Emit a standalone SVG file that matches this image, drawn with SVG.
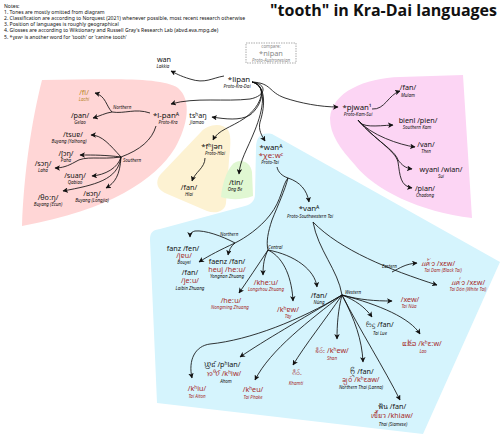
<svg xmlns="http://www.w3.org/2000/svg" width="500" height="435" viewBox="0 0 500 435">
<defs>
<style>
text{font-family:"Noto Sans","DejaVu Sans",sans-serif;fill:#111;text-anchor:middle}
.t{font-size:7.2px}
.p{font-size:7.8px}
.r{fill:#a52a2a}
.g{fill:#b8862a}
.l{font-size:4.5px;font-style:italic}
.b{font-size:4.5px;font-style:italic;text-anchor:start}
.note{font-size:5.1px;text-anchor:start}
.c path{fill:none;stroke:#111;stroke-width:0.85}
.c path.a{marker-end:url(#ah)}
.gr{fill:#888}
</style>
<marker id="ah" viewBox="0 0 10 10" refX="9" refY="5" markerWidth="5.5" markerHeight="5.5" markerUnits="userSpaceOnUse" orient="auto"><path d="M0,0 L10,5 L0,10 L2.5,5 z" fill="#111"/></marker>
</defs>
<rect width="500" height="435" fill="#fff"/>

<g id="regions">
<path d="M42,80 C100,80 160,76 178,88 C192,100 188,125 175,148 C155,180 110,210 22,226 C24,170 32,120 42,80 Z" fill="#ffd6d6"/>
<path d="M200,133 C207,124 222,122 228,130 C232,136 230,150 229,160 L226,203 C225,212 215,214 207,211 L165,193 C157,189 155,182 160,175 Z" fill="#fdf2d2"/>
<path d="M221,197 C222,185 226,172 232,165 C238,158 250,160 252,172 L253,196 C242,200 230,200 221,197 Z" fill="#e0f7d2"/>
<path d="M150,240 C150,232 153,230 160,229 L245,206 C252,204 255,200 255,194 L256,148 C256,136 262,132 272,134 L500,262 L423,434 L157,403 Z" fill="#d5f4fd"/>
<path d="M330,118 C332,92 365,78 400,77 L463,75 L472,218 C420,212 375,190 355,165 C340,148 330,135 330,118 Z" fill="#fcd5f4"/>
</g>

<g id="notes">
<text class="note" x="4" y="7.5">Notes:</text>
<text class="note" x="4" y="13.7">1. Tones are mostly omitted from diagram</text>
<text class="note" x="4" y="19.9">2. Classification are according to Norquest (2021) whenever possible, most recent research otherwise</text>
<text class="note" x="4" y="26.1">3. Position of languages is roughly geographical</text>
<text class="note" x="4" y="32.3">4. Glosses are according to Wiktionary and Russell Gray's Research Lab (abvd.eva.mpg.de)</text>
<text class="note" x="4" y="38.5">5. *ɣɛwᶜ is another word for 'tooth' or 'canine tooth'</text>
</g>
<text id="title" x="497" y="16" style="font-family:'Open Sans','Noto Sans',sans-serif;font-weight:bold;font-size:16px;text-anchor:end">"tooth" in Kra-Dai languages</text>

<g id="connectors" class="c">
<path class="a" d="M224,76 C212,78 205,84 190,79 C180,76 175,73 171,71"/>
<path class="a" d="M252,82 C272,83 268,92 285,98 C300,103 320,107 338,107"/>
<path class="a" d="M252,82 C268,84 266,96 250,99 C225,102 195,97 171,104"/>
<path class="a" d="M252,82 C268,85 262,106 250,115 C240,121 225,119 212,117"/>
<path class="a" d="M252,82 C268,86 262,105 245,118 C230,128 218,130 213,140"/>
<path class="a" d="M252,82 C268,86 263,110 255,130 C247,150 240,160 239,174"/>
<path class="a" d="M252,82 C268,86 264,110 260,122 C258,130 262,136 265,141"/>
<path d="M150,113 C135,108 125,114 112,112"/>
<path class="a" d="M112,112 C106,106 106,96 95,93"/>
<path class="a" d="M112,112 C105,113 100,116 93,118"/>
<path d="M156,126 C152,140 140,150 121,157"/>
<path class="a" d="M121,157 C110,145 102,135 91,135"/>
<path class="a" d="M121,157 C105,155 95,155 80,155"/>
<path class="a" d="M121,157 C100,160 85,155 75,162 C68,166 62,168 55,168"/>
<path class="a" d="M121,157 C118,168 105,175 92,176"/>
<path class="a" d="M121,157 C118,180 95,185 63,191"/>
<path class="a" d="M121,157 C120,175 115,183 106,188"/>
<path class="a" d="M205,158 C205,168 195,172 192,181"/>
<path d="M277,167 C278,172 282,176 288,178"/>
<path class="a" d="M288,178 C300,182 307,190 309,202"/>
<path d="M288,178 C282,185 282,200 270,215 C260,228 245,238 235,243"/>
<path class="a" d="M235,243 C220,250 210,255 199,262"/>
<path class="a" d="M235,243 C222,236 205,230 195,231 C191,232 190,234 190,237"/>
<path class="a" d="M235,243 C231,246 229,250 228,255"/>
<path d="M288,178 C285,190 278,205 272,220 C268,232 266,242 268,250"/>
<path class="a" d="M268,250 C258,265 248,280 239,293"/>
<path class="a" d="M268,250 C264,258 263,265 263,275"/>
<path class="a" d="M268,250 C285,258 292,280 293,301"/>
<path class="a" d="M268,250 C295,255 315,270 317,287"/>
<path d="M313,222 C318,250 338,270 342,295"/>
<path class="a" d="M313,222 C340,250 390,270 437,285"/>
<path class="a" d="M392,272 C400,268 405,264 417,263"/>
<path class="a" d="M342,295 C360,300 375,301 392,301"/>
<path class="a" d="M342,295 C355,300 365,307 372,317"/>
<path class="a" d="M342,295 C380,305 410,318 420,334"/>
<path class="a" d="M342,295 C360,330 385,370 400,400"/>
<path class="a" d="M342,295 C355,320 362,340 363,362"/>
<path class="a" d="M342,295 C338,310 337,325 337,339"/>
<path class="a" d="M342,295 C325,320 305,345 293,365"/>
<path class="a" d="M342,295 C310,320 270,350 255,380"/>
<path class="a" d="M342,295 C300,320 265,340 240,357"/>
<path class="a" d="M342,295 C300,320 250,340 210,344 C195,346 188,360 192,378"/>
<path class="a" d="M372,109 C385,110 388,95 400,91"/>
<path class="a" d="M358,120 C362,128 375,126 393,125"/>
<path class="a" d="M358,120 C370,135 400,145 415,147"/>
<path class="a" d="M358,120 C375,140 395,150 398,160 C402,165 405,168 412,169"/>
<path class="a" d="M358,120 C375,140 395,150 398,162 C400,175 400,186 412,188"/>
</g>

<g id="branch-labels">
<text class="b" x="113" y="109">Northern</text>
<text class="b" x="123" y="162">Southern</text>
<text class="b" x="220" y="236">Northern</text>
<text class="b" x="268" y="249">Central</text>
<text class="b" x="382" y="268">Eastern</text>
<text class="b" x="345" y="294">Western</text>
</g>

<g id="compare">
<rect x="246" y="43" width="50" height="20" fill="none" stroke="#888" stroke-width="0.7" stroke-dasharray="1.5,1"/>
<text class="gr" x="271" y="47.5" style="font-size:4.4px">compare:</text>
<text class="gr" x="271" y="55.8" style="font-size:7.4px">*nipan</text>
<text class="gr l" x="271" y="61.5">Proto-Austronesian</text>
</g>

<g id="n-lipan"><text class="p" x="239" y="82">*lipan</text><text class="l" x="237" y="88">Proto-Kra-Dai</text></g>
<g id="n-wan"><text class="t" x="164" y="61.5">wan</text><text class="l" x="163" y="67.5">Lakkia</text></g>
<g id="n-lachi"><text class="t g" x="84" y="95">/fi/</text><text class="l g" x="84" y="101">Lachi</text></g>
<g id="n-gelao"><text class="t" x="80" y="118">/pan/</text><text class="l" x="80" y="124">Gelao</text></g>
<g id="n-lpan"><text class="p" x="166" y="118">*l-panᴬ</text><text class="l" x="168" y="124">Proto-Kra</text></g>
<g id="n-yalhong"><text class="t" x="73" y="137">/tsuɐ/</text><text class="l" x="69" y="143">Buyang (Yalhong)</text></g>
<g id="n-paha"><text class="t" x="66" y="156">/ʃɔŋ/</text><text class="l" x="66" y="162">Paha</text></g>
<g id="n-laha"><text class="t" x="43" y="166">/sɔŋ/</text><text class="l" x="43" y="172">Laha</text></g>
<g id="n-qabiao"><text class="t" x="75" y="178">/suaŋ/</text><text class="l" x="75" y="184">Qabiao</text></g>
<g id="n-ecun"><text class="t" x="48" y="200">/θoːŋ/</text><text class="l" x="48" y="206">Buyang (Ecun)</text></g>
<g id="n-langjia"><text class="t" x="92" y="196">/ʁɔŋ/</text><text class="l" x="92" y="202">Buyang (Longjia)</text></g>
<g id="n-jiamao"><text class="t" x="198" y="118">tsʰaŋ</text><text class="l" x="197" y="124">Jiamao</text></g>
<g id="n-protohlai"><text class="p" x="212" y="149">*fʰjən</text><text class="l" x="215" y="155">Proto-Hlai</text></g>
<g id="n-hlai"><text class="t" x="189" y="190">/fan/</text><text class="l" x="189" y="196">Hlai</text></g>
<g id="n-ongbe"><text class="t" x="236" y="185">/tin/</text><text class="l" x="235" y="191">Ong Be</text></g>
<g id="n-prototai"><text class="p" x="271" y="149.5">*wanᴬ</text><text class="p r" x="271" y="157.8">*χeːwᶜ</text><text class="l" x="270" y="163.8">Proto-Tai</text></g>
<g id="n-protoswt"><text class="p" x="309" y="211">*vanᴬ</text><text class="l" x="310" y="218">Proto-Southwestern Tai</text></g>
<g id="n-bouyei"><text class="t" x="183" y="250.5">fanz /fen/</text><text class="t r" x="184" y="258.2">/jɐu/</text><text class="l" x="184" y="264.2">Bouyei</text></g>
<g id="n-yongnan"><text class="t" x="227" y="264">faenz /fan/</text><text class="t r" x="227" y="272.2">heuj /heːu/</text><text class="l" x="227" y="278.2">Yongnan Zhuang</text></g>
<g id="n-laibin"><text class="t" x="190" y="275">/fan/</text><text class="t r" x="190" y="283.2">/jeːu/</text><text class="l" x="190" y="290">Laibin Zhuang</text></g>
<g id="n-longzhou"><text class="t r" x="266" y="285">/kheːu/</text><text class="l r" x="266" y="291">Longzhou Zhuang</text></g>
<g id="n-nongming"><text class="t r" x="231" y="303">/heːu/</text><text class="l r" x="230" y="309">Nongming Zhuang</text></g>
<g id="n-tay"><text class="t r" x="288" y="312">/kʰɐw/</text><text class="l r" x="288" y="318">Tày</text></g>
<g id="n-nung"><text class="t" x="319" y="298">/fan/</text><text class="l" x="319" y="304">Nùng</text></g>
<g id="n-taidam"><text class="t r" x="438" y="266">ꪵꪁ꫁ꪫ /xɛw/</text><text class="l r" x="443" y="272">Tai Dam (Black Tai)</text></g>
<g id="n-taidon"><text class="t r" x="468" y="284.5">ꪵꪁ꪿ꪫ /xɛw/</text><text class="l r" x="468" y="291">Tai Dón (White Tai)</text></g>
<g id="n-tainua"><text class="t r" x="410" y="301.5">/xew/</text><text class="l r" x="409" y="308">Tai Nüa</text></g>
<g id="n-tailue"><text class="t" x="380" y="327">ᦝᧃ /fan/</text><text class="l" x="380" y="334.5">Tai Lue</text></g>
<g id="n-lao"><text class="t r" x="422" y="346">ແຂ້ວ /kʰɛːw/</text><text class="l r" x="423" y="352.5">Lao</text></g>
<g id="n-shan"><text class="t r" x="332" y="353">ၶဵဝ်း /kʰew/</text><text class="l r" x="332" y="360">Shan</text></g>
<g id="n-lanna"><text class="t" x="362" y="374">ᨼᩢ᩠ᨶ /fan/</text><text class="t r" x="361" y="382.2">ᨡ᩠ᨿᩅ᩶ /kʰɛaw/</text><text class="l" x="361" y="389.2">Northern Thai (Lanna)</text></g>
<g id="n-thai"><text class="t" x="392" y="409">ฟัน /fan/</text><text class="t r" x="392" y="418">เขี้ยว /khiaw/</text><text class="l" x="393" y="426">Thai (Siamese)</text></g>
<g id="n-khamti"><text class="t r" x="297" y="375">ၵဵဝ်ႉ</text><text class="l r" x="296" y="385">Khamti</text></g>
<g id="n-phake"><text class="t r" x="253" y="392">/kʰeu/</text><text class="l r" x="253" y="399">Tai Phake</text></g>
<g id="n-ahom"><text class="t" x="222" y="367">𑜇𑜝𑜃𑜫 /pʰlan/</text><text class="t r" x="224" y="376">𑜁𑜢𑜈𑜫 /kʰiw/</text><text class="l" x="226" y="383">Ahom</text></g>
<g id="n-aiton"><text class="t r" x="197" y="391">/kʰiu/</text><text class="l r" x="197" y="398">Tai Aiton</text></g>
<g id="n-protokamsui"><text class="p" x="357" y="110">*pjwan¹</text><text class="l" x="358" y="116">Proto-Kam-Sui</text></g>
<g id="n-mulam"><text class="t" x="408" y="90">/fan/</text><text class="l" x="408" y="97">Mulam</text></g>
<g id="n-southernkam"><text class="t" x="418" y="123">bienl /pien/</text><text class="l" x="417" y="129">Southern Kam</text></g>
<g id="n-then"><text class="t" x="426" y="147">/van/</text><text class="l" x="426" y="153">Then</text></g>
<g id="n-sui"><text class="t" x="441" y="172">wyanl /wian/</text><text class="l" x="441" y="178">Sui</text></g>
<g id="n-chadong"><text class="t" x="425" y="191">/pian/</text><text class="l" x="425" y="197">Chadong</text></g>
</svg>
